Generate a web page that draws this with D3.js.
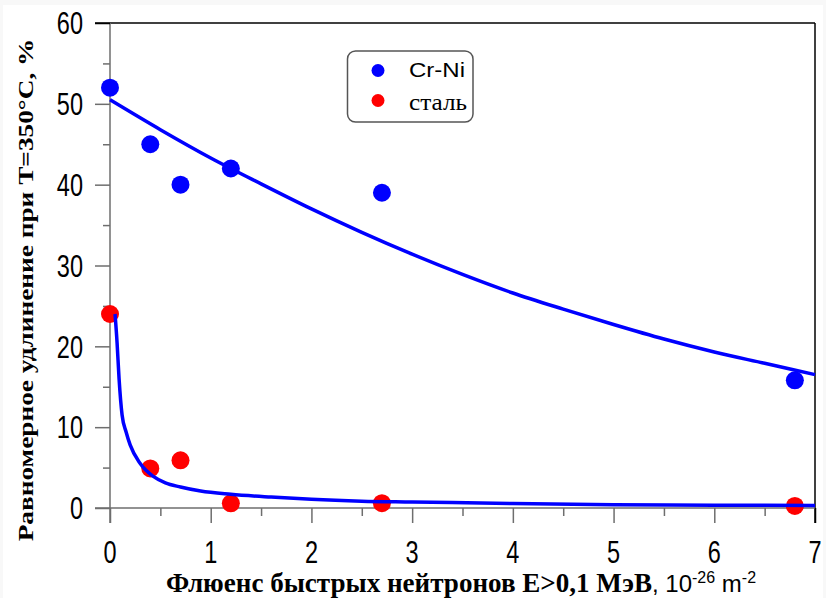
<!DOCTYPE html>
<html><head><meta charset="utf-8">
<script src="https://cdn.jsdelivr.net/npm/d3@7"></script>
<style>html,body{margin:0;padding:0;background:#f8f8f8;}svg{display:block;}</style>
</head><body>
<svg id="chart" width="826" height="598"></svg>
<script>
// ---- data ----
const crniX = [0, 0.4, 0.7, 1.2, 2.7, 6.8];
const crniY = [52, 45, 40, 42, 39, 15.8];
const steelX = [0, 0.4, 0.7, 1.2, 2.7, 6.8];
const steelY = [24, 4.9, 5.9, 0.58, 0.6, 0.25];
// fitted curves
const fitCrniX = [0, 0.5, 1, 1.5, 2, 2.5, 3, 3.5, 4, 4.5, 5, 5.5, 6, 6.5, 7];
const fitCrniY = [50.5, 46.8, 43.3, 40.1, 37.0, 34.1, 31.4, 28.9, 26.6, 24.6, 22.7, 20.9, 19.3, 17.9, 16.5];
const fitSteelX = [0.05, 0.07, 0.09, 0.12, 0.16, 0.2, 0.3, 0.43, 0.55, 0.7, 0.9, 1.2, 1.6, 2, 2.5, 3, 4, 5, 6, 7];
const fitSteelY = [24, 20.5, 16, 11.5, 9.4, 7.8, 5.5, 3.9, 3.1, 2.6, 2.1, 1.7, 1.35, 1.07, 0.85, 0.75, 0.55, 0.4, 0.35, 0.3];
const xTicks = [0, 1, 2, 3, 4, 5, 6, 7];
const xMinor = [0.5, 1.5, 2.5, 3.5, 4.5, 5.5, 6.5];
const yTicks = [0, 10, 20, 30, 40, 50, 60];
const yMinor = [5, 15, 25, 35, 45, 55];
const legendLabels = ["Cr-Ni", "сталь"];
const colors = ["#0000ff", "#ff0000"];

const svg = d3.select("#chart");
svg.append("rect").attr("x", 3).attr("y", 5).attr("width", 820).attr("height", 593).attr("fill", "#fff");

const x = d3.scaleLinear().domain([0, 7]).range([110, 815]);
const y = d3.scaleLinear().domain([0, 60]).range([508, 23]);
const SY = 1.3; // vertical stretch of tick text

// frame: top and right black
svg.append("line").attr("x1", 95).attr("x2", x(7)).attr("y1", y(60)).attr("y2", y(60)).attr("stroke", "#000").attr("stroke-width", 1.5);
svg.append("line").attr("x1", x(7)).attr("x2", x(7)).attr("y1", y(60)).attr("y2", 523).attr("stroke", "#000").attr("stroke-width", 1.5);

// axes (gray)
const axCol = "#6e6e6e";
const gx = svg.append("g").attr("transform", `translate(0,${y(0)})`)
  .call(d3.axisBottom(x).tickValues(xTicks).tickSize(15).tickFormat(""));
const gxm = svg.append("g").attr("transform", `translate(0,${y(0)})`)
  .call(d3.axisBottom(x).tickValues(xMinor).tickSize(8).tickFormat(""));
const gy = svg.append("g").attr("transform", `translate(${x(0)},0)`)
  .call(d3.axisLeft(y).tickValues(yTicks).tickSize(15).tickFormat(""));
const gym = svg.append("g").attr("transform", `translate(${x(0)},0)`)
  .call(d3.axisLeft(y).tickValues(yMinor).tickSize(7).tickFormat(""));
[gx, gxm, gy, gym].forEach(g => {
  g.selectAll("path.domain").attr("stroke", axCol).attr("stroke-width", 1.5);
  g.selectAll(".tick line").attr("stroke", axCol).attr("stroke-width", 1.5);
});
gx.select("path.domain").attr("d", `M95,0H${x(7)}`);
gxm.select("path.domain").remove();
gy.select("path.domain").attr("d", `M0,${y(60)}V523`);
gym.select("path.domain").remove();
gx.selectAll(".tick").filter(d => d === 7).select("line").attr("stroke", "#000");
gy.selectAll(".tick").filter(d => d === 60).select("line").attr("stroke", "#000");

// tick labels
const tickFont = "'Liberation Sans', Arial, sans-serif";
const serif = "'Liberation Serif', 'Times New Roman', serif";
svg.append("g").selectAll("text").data(yTicks).join("text")
  .attr("transform", d => `translate(83,${y(d) + 11.3}) scale(1,${SY})`)
  .attr("text-anchor", "end").attr("font-family", tickFont).attr("font-size", 23.5).attr("fill", "#000")
  .text(d => d);
svg.append("g").selectAll("text").data(xTicks).join("text")
  .attr("transform", d => `translate(${x(d)},563) scale(1,${SY})`)
  .attr("text-anchor", "middle").attr("font-family", tickFont).attr("font-size", 23.5).attr("fill", "#000")
  .text(d => d);

// points (drawn first, lines go over)
const pts = svg.append("g");
pts.selectAll("circle.crni").data(crniX.map((v, i) => [v, crniY[i]])).join("circle")
  .attr("class", "crni").attr("cx", d => x(d[0])).attr("cy", d => y(d[1])).attr("r", 9).attr("fill", colors[0]);
pts.selectAll("circle.steel").data(steelX.map((v, i) => [v, steelY[i]])).join("circle")
  .attr("class", "steel").attr("cx", d => x(d[0])).attr("cy", d => y(d[1])).attr("r", 9).attr("fill", colors[1]);

// fit lines
const line = d3.line().x(d => x(d[0])).y(d => y(d[1])).curve(d3.curveMonotoneX);
svg.append("path").datum(fitCrniX.map((v, i) => [v, fitCrniY[i]]))
  .attr("d", line).attr("fill", "none").attr("stroke", colors[0]).attr("stroke-width", 3.5);
svg.append("path").datum(fitSteelX.map((v, i) => [v, fitSteelY[i]]))
  .attr("d", line).attr("fill", "none").attr("stroke", colors[0]).attr("stroke-width", 3.5);

// legend
const lg = svg.append("g");
lg.append("rect").attr("x", 347.5).attr("y", 51).attr("width", 125.5).attr("height", 71)
  .attr("rx", 8).attr("fill", "#fff").attr("stroke", "#555").attr("stroke-width", 1.5);
lg.append("circle").attr("cx", 378).attr("cy", 70.5).attr("r", 6.5).attr("fill", colors[0]);
lg.append("circle").attr("cx", 378).attr("cy", 100.5).attr("r", 6.5).attr("fill", colors[1]);
lg.append("text").attr("x", 409).attr("y", 77)
  .attr("font-family", tickFont).attr("font-size", 21).attr("textLength", 56).attr("lengthAdjust", "spacingAndGlyphs")
  .attr("fill", "#000").text(legendLabels[0]);
lg.append("text").attr("x", 409).attr("y", 110)
  .attr("font-family", serif).attr("font-size", 24).attr("textLength", 58).attr("lengthAdjust", "spacingAndGlyphs")
  .attr("fill", "#000").text(legendLabels[1]);

// axis titles
const xt = svg.append("text").attr("x", 166).attr("y", 592).attr("fill", "#000");
xt.append("tspan").attr("font-family", serif).attr("font-weight", "bold").attr("font-size", 26.5)
  .attr("textLength", 486).attr("lengthAdjust", "spacingAndGlyphs").text("Флюенс быстрых нейтронов E>0,1 МэВ");
xt.append("tspan").attr("font-family", tickFont).attr("font-size", 24).text(", 10");
xt.append("tspan").attr("font-family", tickFont).attr("font-size", 16).attr("dy", -9).text("-26");
xt.append("tspan").attr("font-family", tickFont).attr("font-size", 24).attr("dy", 9).text(" m");
xt.append("tspan").attr("font-family", tickFont).attr("font-size", 16).attr("dy", -9).text("-2");

svg.append("text").attr("transform", `translate(33,290) rotate(-90) scale(${SY},1)`)
  .attr("text-anchor", "middle").attr("font-family", serif).attr("font-weight", "bold")
  .attr("font-size", 21).attr("fill", "#000").text("Равномерное удлинение при T=350°C, %");
</script>
</body></html>
